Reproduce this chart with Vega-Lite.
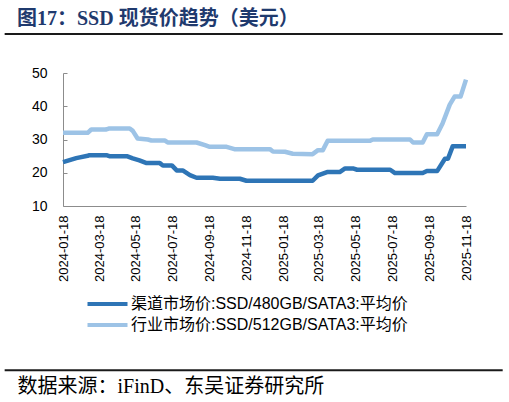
{
  "$schema": "https://vega.github.io/schema/vega-lite/v6.json",
  "autosize": {"type": "none"},
  "width": 403,
  "height": 133,
  "padding": {"left": 63, "top": 73, "right": 43, "bottom": 196},
  "background": "white",
  "config": {"view": {"stroke": null}, "axis": {"labelOverlap": false}},
  "title": {
    "text": "图17：SSD 现货价趋势（美元）",
    "anchor": "start",
    "frame": "group",
    "dx": -46,
    "offset": 4,
    "font": "Liberation Serif, Noto Sans CJK SC",
    "fontSize": 20,
    "fontWeight": "bold",
    "color": "#1F3A6E"
  },
  "resolve": {"axis": {"x": "independent", "y": "independent"}},
  "layer": [
    {
      "data": {
        "values": [
          {"date": "2024-01-18", "series": "渠道市场价:SSD/480GB/SATA3:平均价", "price": 23.2},
          {"date": "2024-02-09", "series": "渠道市场价:SSD/480GB/SATA3:平均价", "price": 24.4},
          {"date": "2024-02-28", "series": "渠道市场价:SSD/480GB/SATA3:平均价", "price": 25.1},
          {"date": "2024-03-02", "series": "渠道市场价:SSD/480GB/SATA3:平均价", "price": 25.3},
          {"date": "2024-03-30", "series": "渠道市场价:SSD/480GB/SATA3:平均价", "price": 25.3},
          {"date": "2024-04-04", "series": "渠道市场价:SSD/480GB/SATA3:平均价", "price": 25.0},
          {"date": "2024-05-03", "series": "渠道市场价:SSD/480GB/SATA3:平均价", "price": 25.0},
          {"date": "2024-05-13", "series": "渠道市场价:SSD/480GB/SATA3:平均价", "price": 24.3},
          {"date": "2024-05-24", "series": "渠道市场价:SSD/480GB/SATA3:平均价", "price": 23.7},
          {"date": "2024-06-05", "series": "渠道市场价:SSD/480GB/SATA3:平均价", "price": 22.9},
          {"date": "2024-06-27", "series": "渠道市场价:SSD/480GB/SATA3:平均价", "price": 22.9},
          {"date": "2024-07-02", "series": "渠道市场价:SSD/480GB/SATA3:平均价", "price": 22.2},
          {"date": "2024-07-17", "series": "渠道市场价:SSD/480GB/SATA3:平均价", "price": 22.2},
          {"date": "2024-07-25", "series": "渠道市场价:SSD/480GB/SATA3:平均价", "price": 20.7},
          {"date": "2024-08-04", "series": "渠道市场价:SSD/480GB/SATA3:平均价", "price": 20.7},
          {"date": "2024-08-16", "series": "渠道市场价:SSD/480GB/SATA3:平均价", "price": 19.3},
          {"date": "2024-08-27", "series": "渠道市场价:SSD/480GB/SATA3:平均价", "price": 18.5},
          {"date": "2024-09-23", "series": "渠道市场价:SSD/480GB/SATA3:平均价", "price": 18.5},
          {"date": "2024-10-05", "series": "渠道市场价:SSD/480GB/SATA3:平均价", "price": 18.2},
          {"date": "2024-11-07", "series": "渠道市场价:SSD/480GB/SATA3:平均价", "price": 18.2},
          {"date": "2024-11-18", "series": "渠道市场价:SSD/480GB/SATA3:平均价", "price": 17.6},
          {"date": "2025-03-08", "series": "渠道市场价:SSD/480GB/SATA3:平均价", "price": 17.6},
          {"date": "2025-03-17", "series": "渠道市场价:SSD/480GB/SATA3:平均价", "price": 19.2},
          {"date": "2025-04-01", "series": "渠道市场价:SSD/480GB/SATA3:平均价", "price": 20.2},
          {"date": "2025-04-22", "series": "渠道市场价:SSD/480GB/SATA3:平均价", "price": 20.2},
          {"date": "2025-05-01", "series": "渠道市场价:SSD/480GB/SATA3:平均价", "price": 21.3},
          {"date": "2025-05-14", "series": "渠道市场价:SSD/480GB/SATA3:平均价", "price": 21.3},
          {"date": "2025-05-21", "series": "渠道市场价:SSD/480GB/SATA3:平均价", "price": 20.9},
          {"date": "2025-07-15", "series": "渠道市场价:SSD/480GB/SATA3:平均价", "price": 20.9},
          {"date": "2025-07-23", "series": "渠道市场价:SSD/480GB/SATA3:平均价", "price": 19.9},
          {"date": "2025-09-07", "series": "渠道市场价:SSD/480GB/SATA3:平均价", "price": 19.9},
          {"date": "2025-09-14", "series": "渠道市场价:SSD/480GB/SATA3:平均价", "price": 20.5},
          {"date": "2025-10-01", "series": "渠道市场价:SSD/480GB/SATA3:平均价", "price": 20.5},
          {"date": "2025-10-14", "series": "渠道市场价:SSD/480GB/SATA3:平均价", "price": 24.2},
          {"date": "2025-10-19", "series": "渠道市场价:SSD/480GB/SATA3:平均价", "price": 24.2},
          {"date": "2025-10-27", "series": "渠道市场价:SSD/480GB/SATA3:平均价", "price": 28.0},
          {"date": "2025-11-18", "series": "渠道市场价:SSD/480GB/SATA3:平均价", "price": 28.0},
          {"date": "2024-01-18", "series": "行业市场价:SSD/512GB/SATA3:平均价", "price": 32.0},
          {"date": "2024-02-28", "series": "行业市场价:SSD/512GB/SATA3:平均价", "price": 32.0},
          {"date": "2024-03-05", "series": "行业市场价:SSD/512GB/SATA3:平均价", "price": 33.0},
          {"date": "2024-03-29", "series": "行业市场价:SSD/512GB/SATA3:平均价", "price": 33.0},
          {"date": "2024-04-03", "series": "行业市场价:SSD/512GB/SATA3:平均价", "price": 33.3},
          {"date": "2024-05-08", "series": "行业市场价:SSD/512GB/SATA3:平均价", "price": 33.3},
          {"date": "2024-05-13", "series": "行业市场价:SSD/512GB/SATA3:平均价", "price": 32.6},
          {"date": "2024-05-21", "series": "行业市场价:SSD/512GB/SATA3:平均价", "price": 30.3},
          {"date": "2024-06-07", "series": "行业市场价:SSD/512GB/SATA3:平均价", "price": 30.0},
          {"date": "2024-06-13", "series": "行业市场价:SSD/512GB/SATA3:平均价", "price": 29.7},
          {"date": "2024-07-05", "series": "行业市场价:SSD/512GB/SATA3:平均价", "price": 29.7},
          {"date": "2024-07-10", "series": "行业市场价:SSD/512GB/SATA3:平均价", "price": 29.1},
          {"date": "2024-08-27", "series": "行业市场价:SSD/512GB/SATA3:平均价", "price": 29.1},
          {"date": "2024-09-10", "series": "行业市场价:SSD/512GB/SATA3:平均价", "price": 28.3},
          {"date": "2024-09-18", "series": "行业市场价:SSD/512GB/SATA3:平均价", "price": 27.8},
          {"date": "2024-10-16", "series": "行业市场价:SSD/512GB/SATA3:平均价", "price": 27.8},
          {"date": "2024-10-29", "series": "行业市场价:SSD/512GB/SATA3:平均价", "price": 27.1},
          {"date": "2024-12-27", "series": "行业市场价:SSD/512GB/SATA3:平均价", "price": 27.1},
          {"date": "2025-01-01", "series": "行业市场价:SSD/512GB/SATA3:平均价", "price": 26.4},
          {"date": "2025-01-21", "series": "行业市场价:SSD/512GB/SATA3:平均价", "price": 26.3},
          {"date": "2025-02-03", "series": "行业市场价:SSD/512GB/SATA3:平均价", "price": 25.7},
          {"date": "2025-03-08", "series": "行业市场价:SSD/512GB/SATA3:平均价", "price": 25.6},
          {"date": "2025-03-17", "series": "行业市场价:SSD/512GB/SATA3:平均价", "price": 26.8},
          {"date": "2025-03-25", "series": "行业市场价:SSD/512GB/SATA3:平均价", "price": 26.8},
          {"date": "2025-04-02", "series": "行业市场价:SSD/512GB/SATA3:平均价", "price": 29.6},
          {"date": "2025-06-11", "series": "行业市场价:SSD/512GB/SATA3:平均价", "price": 29.6},
          {"date": "2025-06-16", "series": "行业市场价:SSD/512GB/SATA3:平均价", "price": 30.0},
          {"date": "2025-08-17", "series": "行业市场价:SSD/512GB/SATA3:平均价", "price": 30.0},
          {"date": "2025-08-22", "series": "行业市场价:SSD/512GB/SATA3:平均价", "price": 29.1},
          {"date": "2025-09-07", "series": "行业市场价:SSD/512GB/SATA3:平均价", "price": 29.1},
          {"date": "2025-09-14", "series": "行业市场价:SSD/512GB/SATA3:平均价", "price": 31.6},
          {"date": "2025-10-01", "series": "行业市场价:SSD/512GB/SATA3:平均价", "price": 31.6},
          {"date": "2025-10-10", "series": "行业市场价:SSD/512GB/SATA3:平均价", "price": 34.8},
          {"date": "2025-10-22", "series": "行业市场价:SSD/512GB/SATA3:平均价", "price": 40.5},
          {"date": "2025-10-30", "series": "行业市场价:SSD/512GB/SATA3:平均价", "price": 42.9},
          {"date": "2025-11-09", "series": "行业市场价:SSD/512GB/SATA3:平均价", "price": 42.9},
          {"date": "2025-11-18", "series": "行业市场价:SSD/512GB/SATA3:平均价", "price": 48.0}
        ]
      },
      "mark": {"type": "line", "strokeWidth": 4.5, "strokeJoin": "round", "strokeCap": "butt"},
      "encoding": {
        "x": {
          "field": "date",
          "type": "temporal",
          "scale": {
            "type": "utc",
            "domain": [
              {"year": 2024, "month": 1, "date": 18, "utc": true},
              {"year": 2025, "month": 11, "date": 18, "utc": true}
            ]
          },
          "axis": {
            "values": [
              {"year": 2024, "month": 1, "date": 18, "utc": true},
              {"year": 2024, "month": 3, "date": 18, "utc": true},
              {"year": 2024, "month": 5, "date": 18, "utc": true},
              {"year": 2024, "month": 7, "date": 18, "utc": true},
              {"year": 2024, "month": 9, "date": 18, "utc": true},
              {"year": 2024, "month": 11, "date": 18, "utc": true},
              {"year": 2025, "month": 1, "date": 18, "utc": true},
              {"year": 2025, "month": 3, "date": 18, "utc": true},
              {"year": 2025, "month": 5, "date": 18, "utc": true},
              {"year": 2025, "month": 7, "date": 18, "utc": true},
              {"year": 2025, "month": 9, "date": 18, "utc": true},
              {"year": 2025, "month": 11, "date": 18, "utc": true}
            ],
            "labelExpr": "utcFormat(datum.value, '%Y-%m-%d')",
            "labelAngle": 270,
            "labelAlign": "right",
            "labelBaseline": "middle",
            "labelPadding": 9,
            "labelFont": "Liberation Sans",
            "labelFontSize": 13,
            "labelColor": "#000000",
            "labelFlush": false,
            "labelOverlap": false,
            "ticks": false,
            "grid": false,
            "domainColor": "#8C8C8C",
            "domainWidth": 1,
            "title": "数据来源：iFinD、东吴证券研究所",
            "titleAnchor": "start",
            "titleAlign": "left",
            "titleBaseline": "alphabetic",
            "titleX": -46,
            "titleY": 186,
            "titleFont": "Liberation Serif, Noto Sans CJK SC",
            "titleFontSize": 20,
            "titleFontWeight": "normal",
            "titleColor": "#000000"
          }
        },
        "y": {
          "field": "price",
          "type": "quantitative",
          "scale": {"domain": [10, 50], "nice": false, "zero": false},
          "axis": {
            "values": [10, 20, 30, 40, 50],
            "labelOverlap": false,
            "grid": false,
            "tickSize": -4,
            "tickColor": "#8C8C8C",
            "domainColor": "#8C8C8C",
            "labelFont": "Liberation Sans",
            "labelFontSize": 14,
            "labelColor": "#000000",
            "labelPadding": 20,
            "title": null
          }
        },
        "color": {
          "field": "series",
          "type": "nominal",
          "scale": {
            "domain": ["渠道市场价:SSD/480GB/SATA3:平均价", "行业市场价:SSD/512GB/SATA3:平均价"],
            "range": ["#2E75B6", "#9DC3E6"]
          },
          "legend": {
            "orient": "none",
            "legendX": 21,
            "legendY": 223,
            "direction": "vertical",
            "title": null,
            "symbolType": "M-10,0H10",
            "symbolSize": 16,
            "symbolStrokeWidth": 4,
            "symbolOffset": 15.5,
            "labelFont": "Liberation Sans, Noto Sans CJK SC",
            "labelFontSize": 16,
            "labelColor": "#000000",
            "labelOffset": 15.5,
            "labelLimit": 400,
            "rowPadding": 5
          }
        }
      }
    },
    {
      "data": {"values": [{}]},
      "mark": {"type": "rule", "color": "#1A1A1A", "strokeWidth": 2},
      "encoding": {
        "x": {"datum": {"year": 2023, "month": 10, "date": 13, "utc": true}, "type": "temporal", "axis": null},
        "x2": {"datum": {"year": 2026, "month": 1, "date": 18, "utc": true}},
        "y": {"datum": 61.7, "type": "quantitative", "axis": null}
      }
    },
    {
      "data": {"values": [{}]},
      "mark": {"type": "rule", "color": "#1A1A1A", "strokeWidth": 2},
      "encoding": {
        "x": {"datum": {"year": 2023, "month": 10, "date": 13, "utc": true}, "type": "temporal", "axis": null},
        "x2": {"datum": {"year": 2026, "month": 1, "date": 18, "utc": true}},
        "y": {"datum": -39.4, "type": "quantitative", "axis": null}
      }
    }
  ]
}
